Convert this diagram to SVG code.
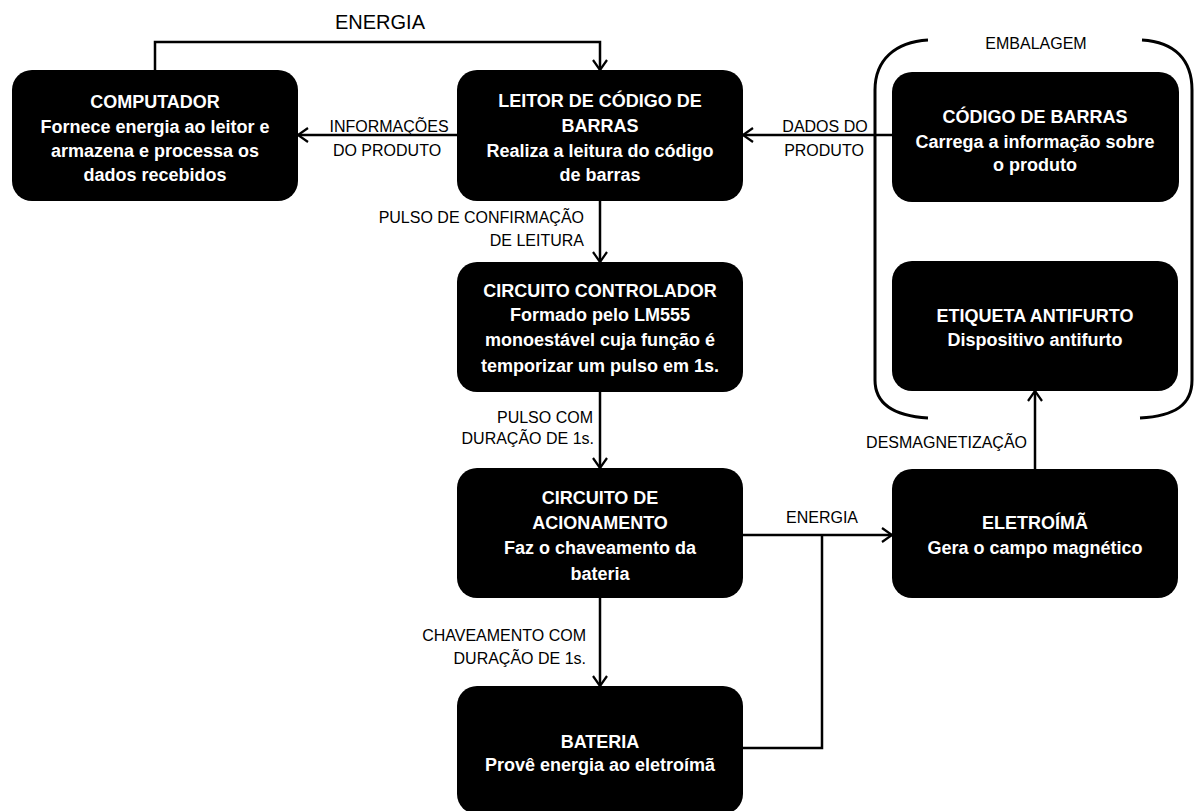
<svg xmlns="http://www.w3.org/2000/svg" width="1194" height="811" viewBox="0 0 1194 811">
<defs>
<style>
.box{fill:#000;}
.bt{font-family:"Liberation Sans",Arial,sans-serif;font-size:18px;font-weight:bold;fill:#fff;text-anchor:middle;}
.lb{font-family:"Liberation Sans",Arial,sans-serif;font-size:16px;fill:#000;}
.c{text-anchor:middle;}
.r{text-anchor:end;}
.ln{fill:none;stroke:#000;stroke-width:2.5;}
.br{fill:none;stroke:#000;stroke-width:3;}
</style>
<marker id="ah" viewBox="-1 -1 13 16" refX="10" refY="7" markerWidth="13" markerHeight="16" markerUnits="userSpaceOnUse" orient="auto">
<path d="M0,0 L10,7 L0,14" fill="none" stroke="#000" stroke-width="2.2"/>
</marker>
</defs>
<rect width="1194" height="811" fill="#fff"/>

<g id="connectors">
<path class="ln" d="M155,70 V42 H600 V70" marker-end="url(#ah)"/>
<path class="ln" d="M457,135 H298" marker-end="url(#ah)"/>
<path class="ln" d="M892,135 H743" marker-end="url(#ah)"/>
<path class="ln" d="M600,201 V262" marker-end="url(#ah)"/>
<path class="ln" d="M600,392 V468" marker-end="url(#ah)"/>
<path class="ln" d="M600,598 V686" marker-end="url(#ah)"/>
<path class="ln" d="M743,535 H892" marker-end="url(#ah)"/>
<path class="ln" d="M743,748 H822 V535"/>
<path class="ln" d="M1035,469 V391" marker-end="url(#ah)"/>
<text class="lb c" x="380" y="29" style="font-size:20px">ENERGIA</text>
<text class="lb c" x="389" y="132">INFORMAÇÕES</text>
<text class="lb c" x="387" y="155.5">DO PRODUTO</text>
<text class="lb c" x="825" y="132">DADOS DO</text>
<text class="lb c" x="824" y="155.5">PRODUTO</text>
<text class="lb r" x="584" y="222.5">PULSO DE CONFIRMAÇÃO</text>
<text class="lb r" x="584" y="245.5">DE LEITURA</text>
<text class="lb r" x="593" y="422.5">PULSO COM</text>
<text class="lb r" x="594" y="443.5">DURAÇÃO DE 1s.</text>
<text class="lb r" x="586" y="640.5">CHAVEAMENTO COM</text>
<text class="lb r" x="586" y="663.5">DURAÇÃO DE 1s.</text>
<text class="lb c" x="822" y="522.5">ENERGIA</text>
<text class="lb r" x="1027" y="447.5">DESMAGNETIZAÇÃO</text>
</g>

<g id="embalagem">
<path class="br" d="M928,40 C895,42 875,60 875,90 V380 C875,405 895,416 928,418"/>
<path class="br" d="M1142,40 C1175,42 1192,60 1192,90 V380 C1192,405 1175,416 1140,418"/>
<text class="lb c" x="1036" y="49">EMBALAGEM</text>
</g>

<g id="computador">
<rect class="box" x="12" y="70" width="286" height="131" rx="20"/>
<text class="bt" x="155" y="108">COMPUTADOR</text>
<text class="bt" x="155" y="133">Fornece energia ao leitor e</text>
<text class="bt" x="155" y="157">armazena e processa os</text>
<text class="bt" x="155" y="181">dados recebidos</text>
</g>

<g id="leitor">
<rect class="box" x="457" y="70" width="286" height="131" rx="20"/>
<text class="bt" x="600" y="107">LEITOR DE CÓDIGO DE</text>
<text class="bt" x="600" y="132">BARRAS</text>
<text class="bt" x="600" y="157">Realiza a leitura do código</text>
<text class="bt" x="600" y="181">de barras</text>
</g>

<g id="codigo">
<rect class="box" x="892" y="72" width="287" height="130" rx="20"/>
<text class="bt" x="1035" y="123">CÓDIGO DE BARRAS</text>
<text class="bt" x="1035" y="148">Carrega a informação sobre</text>
<text class="bt" x="1035" y="171">o produto</text>
</g>

<g id="controlador">
<rect class="box" x="457" y="262" width="286" height="130" rx="20"/>
<text class="bt" x="600" y="297">CIRCUITO CONTROLADOR</text>
<text class="bt" x="600" y="321">Formado pelo LM555</text>
<text class="bt" x="600" y="346">monoestável cuja função é</text>
<text class="bt" x="600" y="372">temporizar um pulso em 1s.</text>
</g>

<g id="etiqueta">
<rect class="box" x="892" y="261" width="286" height="130" rx="20"/>
<text class="bt" x="1035" y="322">ETIQUETA ANTIFURTO</text>
<text class="bt" x="1035" y="346">Dispositivo antifurto</text>
</g>

<g id="acionamento">
<rect class="box" x="457" y="468" width="286" height="130" rx="20"/>
<text class="bt" x="600" y="504">CIRCUITO DE</text>
<text class="bt" x="600" y="529">ACIONAMENTO</text>
<text class="bt" x="600" y="554">Faz o chaveamento da</text>
<text class="bt" x="600" y="580">bateria</text>
</g>

<g id="eletroima">
<rect class="box" x="892" y="469" width="286" height="129" rx="20"/>
<text class="bt" x="1035" y="529">ELETROÍMÃ</text>
<text class="bt" x="1035" y="554">Gera o campo magnético</text>
</g>

<g id="bateria">
<rect class="box" x="457" y="686" width="286" height="128" rx="20"/>
<text class="bt" x="600" y="748">BATERIA</text>
<text class="bt" x="600" y="771">Provê energia ao eletroímã</text>
</g>
</svg>
